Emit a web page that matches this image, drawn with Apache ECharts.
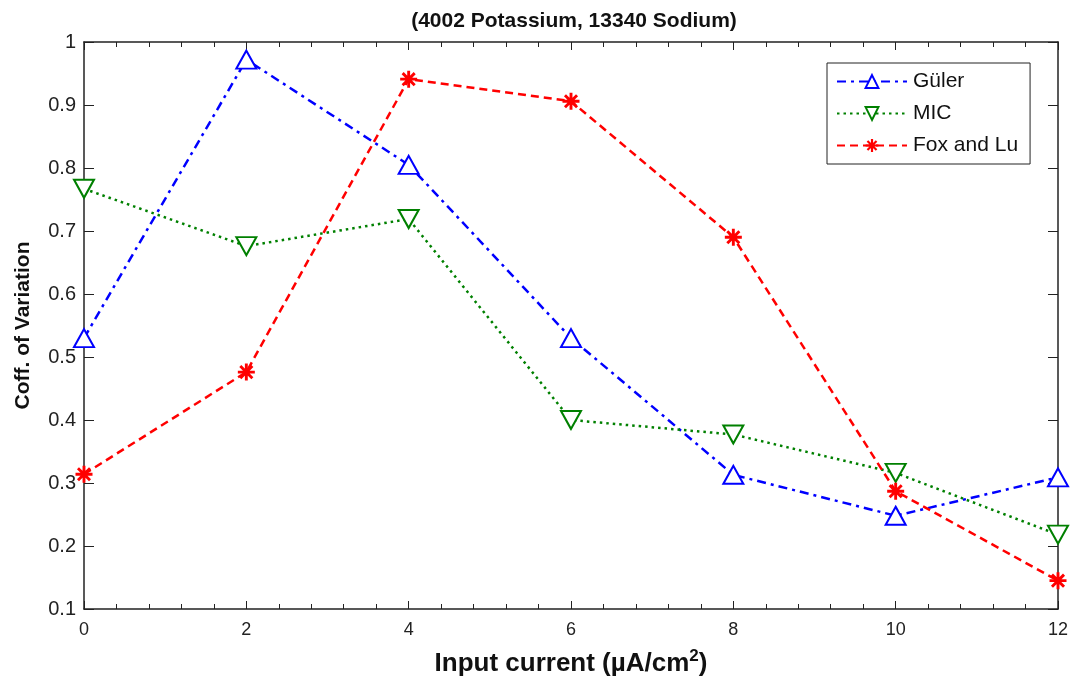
<!DOCTYPE html>
<html>
<head>
<meta charset="utf-8">
<script src="https://cdn.jsdelivr.net/npm/echarts@6/dist/echarts.min.js"></script>
<style>
  html, body { margin: 0; padding: 0; background: #fff; }
  #chart { width: 1076px; height: 683px; }
</style>
</head>
<body>
<div id="chart"></div>
<script>
// input current values (x)
const current = [0, 2, 4, 6, 8, 10, 12];
const guler = [0.530, 0.972, 0.805, 0.530, 0.313, 0.248, 0.309];
const mic = [0.767, 0.676, 0.719, 0.400, 0.377, 0.316, 0.218];
const foxLu = [0.314, 0.476, 0.941, 0.906, 0.690, 0.287, 0.145];

const pair = (ys) => current.map((x, i) => [x, ys[i]]);

// asterisk marker (plus + x)
const asterisk = "path://M0,8.3H20V11.7H0Z M8.3,0H11.7V20H8.3Z " +
  "M4.1,1.7L18.3,15.9L15.9,18.3L1.7,4.1Z " +
  "M15.9,1.7L18.3,4.1L4.1,18.3L1.7,15.9Z";

const font = "'Liberation Sans', Arial, sans-serif";
const axisColor = "#222";

const chart = echarts.init(document.getElementById("chart"));

chart.setOption({
  animation: false,
  backgroundColor: "#fff",
  title: {
    text: "(4002 Potassium, 13340 Sodium)",
    left: 569,
    top: 6,
    textAlign: "center",
    textStyle: { fontFamily: font, fontSize: 21, fontWeight: "bold", color: "#111" },
  },
  grid: { left: 84, right: 18, top: 42, bottom: 74, outerBoundsMode: "none" },
  legend: {
    orient: "vertical",
    left: 827,
    top: 63,
    width: 205,
    padding: [8, 12, 8, 9],
    itemWidth: 70,
    itemHeight: 16,
    itemGap: 11,
    borderColor: "#222",
    borderWidth: 1,
    backgroundColor: "#fff",
    textStyle: { fontFamily: font, fontSize: 21, color: "#111", padding: [0, 0, 0, 1] },
    data: ["Güler", "MIC", "Fox and Lu"],
  },
  xAxis: [
    {
      type: "value",
      min: 0,
      max: 12,
      interval: 2,
      name: "{a|Input current (\u00b5A/cm}{s|2}{a|)}",
      nameLocation: "middle",
      nameGap: 39,
      nameTextStyle: {
        rich: {
          a: { fontFamily: font, fontSize: 26, fontWeight: "bold", color: "#111" },
          s: { fontFamily: font, fontSize: 17, fontWeight: "bold", color: "#111", verticalAlign: "top", padding: [0, 0, 14, 0] },
        },
      },
      axisLine: { onZero: false, lineStyle: { color: axisColor, width: 1.5 } },
      axisTick: { inside: true, length: 8, lineStyle: { color: axisColor } },
      minorTick: { show: true, splitNumber: 5, length: 5, lineStyle: { color: axisColor } },
      axisLabel: { fontFamily: font, fontSize: 18, color: "#222", margin: 12 },
      splitLine: { show: false },
    },
    {
      type: "value",
      position: "top",
      min: 0,
      max: 12,
      interval: 2,
      axisLine: { onZero: false, lineStyle: { color: axisColor, width: 1.5 } },
      axisTick: { inside: true, length: 8, lineStyle: { color: axisColor } },
      minorTick: { show: true, splitNumber: 5, length: 5, lineStyle: { color: axisColor } },
      axisLabel: { show: false },
      splitLine: { show: false },
    },
  ],
  yAxis: [
    {
      type: "value",
      position: "left",
      min: 0.1,
      max: 1,
      interval: 0.1,
      name: "Coff. of Variation",
      nameLocation: "middle",
      nameGap: 50,
      nameTextStyle: { fontFamily: font, fontSize: 21, fontWeight: "bold", color: "#111" },
      axisLine: { show: true, onZero: false, lineStyle: { color: axisColor, width: 1.5 } },
      axisTick: { show: true, inside: true, length: 10, lineStyle: { color: axisColor } },
      axisLabel: {
        fontFamily: font, fontSize: 20, color: "#222", margin: 8,
        formatter: (v) => (v === 1 ? "1" : v.toFixed(1)),
      },
      splitLine: { show: false },
    },
    {
      type: "value",
      position: "right",
      offset: 0,
      min: 0.1,
      max: 1,
      interval: 0.1,
      axisLine: { show: true, onZero: false, lineStyle: { color: axisColor, width: 1.5 } },
      axisTick: { show: true, inside: true, length: 10, lineStyle: { color: axisColor } },
      axisLabel: { show: false },
      splitLine: { show: false },
    },
  ],
  series: [
    {
      name: "Güler",
      type: "line",
      data: pair(guler),
      color: "#0000ff",
      symbol: "emptyTriangle",
      symbolSize: [20, 18],
      lineStyle: { width: 2.5, type: [9, 5, 3, 5] },
      itemStyle: { borderWidth: 2.2 },
    },
    {
      name: "MIC",
      type: "line",
      data: pair(mic),
      color: "#008000",
      symbol: "emptyTriangle",
      symbolRotate: 180,
      symbolSize: [20, 18],
      lineStyle: { width: 2.5, type: [2.5, 4] },
      itemStyle: { borderWidth: 2.2 },
    },
    {
      name: "Fox and Lu",
      type: "line",
      data: pair(foxLu),
      color: "#ff0000",
      symbol: asterisk,
      symbolSize: 17,
      lineStyle: { width: 2.5, type: [8, 5] },
    },
  ],
});
</script>
</body>
</html>
